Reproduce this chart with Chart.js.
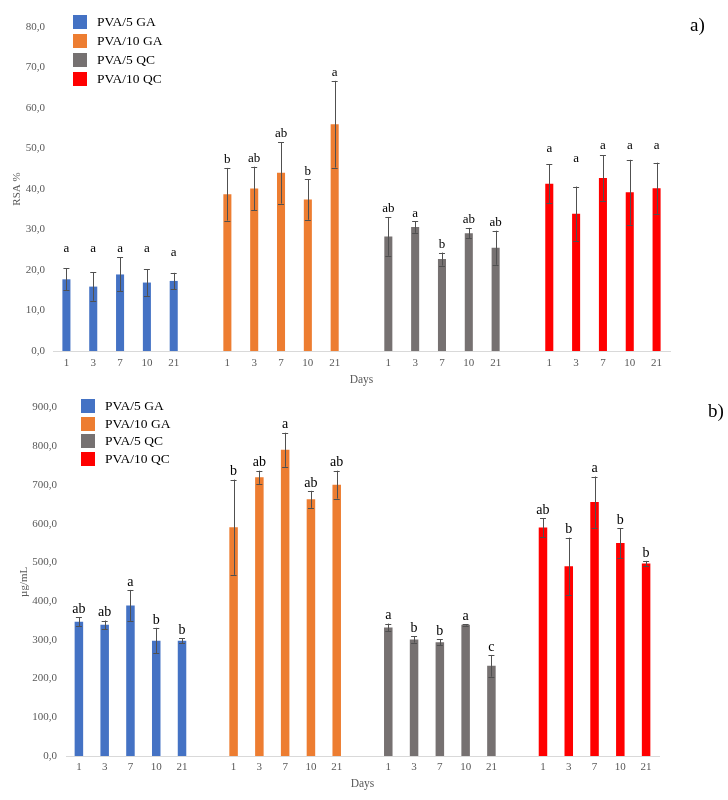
<!DOCTYPE html>
<html>
<head>
<meta charset="utf-8">
<script src="https://cdn.jsdelivr.net/npm/chart.js@4"></script>
<style>
  body { margin: 0; background: #fff; }
  #wrap { position: relative; width: 728px; height: 800px; font-family: 'Liberation Serif', 'Times New Roman', serif; }
  .box { position: absolute; left: 0; }
  .leg { position: absolute; font-size: 13.5px; color: #000; line-height: 14px; white-space: nowrap; }
  .leg i { position: absolute; left: 0; top: 0; width: 14px; height: 14px; }
  .leg span { position: absolute; left: 24px; top: 0; }
  .panel { position: absolute; font-size: 19px; color: #000; }
</style>
</head>
<body>
<div id="wrap">
  <div class="box" style="top:0"><canvas id="rsaChart" width="728" height="392"></canvas></div>
  <div class="box" style="top:392px"><canvas id="concChart" width="728" height="408"></canvas></div>
  <div id="legTop"></div>
  <div id="legBottom"></div>
  <div class="panel" style="left:690px; top:14px">a)</div>
  <div class="panel" style="left:708px; top:400px">b)</div>
</div>
<script>
const days = ['1', '3', '7', '10', '21'];
const seriesNames = ['PVA/5 GA', 'PVA/10 GA', 'PVA/5 QC', 'PVA/10 QC'];
const colors = ['#4472c4', '#ed7d31', '#767171', '#ff0000'];

// a) RSA %
const rsaGA5 = [17.7, 15.9, 18.9, 16.9, 17.3];
const rsaGA10 = [38.7, 40.1, 44.0, 37.4, 56.0];
const rsaQC5 = [28.3, 30.6, 22.7, 29.1, 25.5];
const rsaQC10 = [41.3, 33.9, 42.7, 39.2, 40.2];
const rsaErrGA5 = [2.7, 3.5, 4.2, 3.3, 2.0];
const rsaErrGA10 = [6.5, 5.4, 7.6, 5.0, 10.7];
const rsaErrQC5 = [4.8, 1.4, 1.6, 1.3, 4.2];
const rsaErrQC10 = [4.8, 6.7, 5.6, 8.0, 6.3];
const rsaTagsGA5 = ['a', 'a', 'a', 'a', 'a'];
const rsaTagsGA10 = ['b', 'ab', 'ab', 'b', 'a'];
const rsaTagsQC5 = ['ab', 'a', 'b', 'ab', 'ab'];
const rsaTagsQC10 = ['a', 'a', 'a', 'a', 'a'];
// letters that sit at a fixed level (RSA % value) instead of just over the bar
const rsaTagAtGA5 = [25.2, 25.2, 25.2, 25.2, 24.4];
const rsaTagAtQC10 = [50.1, 47.4, 50.6, 50.6, 50.6];

// b) µg/mL
const concGA5 = [347, 339, 389, 298, 298];
const concGA10 = [591, 720, 791, 663, 701];
const concQC5 = [332, 301, 294, 339, 233];
const concQC10 = [590, 490, 656, 550, 497];
const concErrGA5 = [11.5, 11, 40, 33, 6];
const concErrGA10 = [123, 17, 44, 22, 36];
const concErrQC5 = [10, 8, 8, 2, 28];
const concErrQC10 = [24, 74, 66, 39, 7];
const concTagsGA5 = ['ab', 'ab', 'a', 'b', 'b'];
const concTagsGA10 = ['b', 'ab', 'a', 'ab', 'ab'];
const concTagsQC5 = ['a', 'b', 'b', 'a', 'c'];
const concTagsQC10 = ['ab', 'b', 'a', 'b', 'b'];

const SERIF = "'Liberation Serif', 'Times New Roman', serif";
Chart.defaults.font.family = SERIF;

// 5 days per group, one empty slot between groups
const labels = [];
seriesNames.forEach((s, g) => {
  days.forEach(d => labels.push(d));
  if (g < seriesNames.length - 1) labels.push('');
});

function spread(values, g) {
  const out = new Array(labels.length).fill(null);
  values.forEach((v, i) => { out[g * 6 + i] = v; });
  return out;
}

function makeDatasets(values, errs, tags, tagAt) {
  return values.map((vals, g) => ({
    label: seriesNames[g],
    data: spread(vals, g),
    backgroundColor: colors[g],
    err: spread(errs[g], g),
    tags: spread(tags[g], g),
    tagAt: tagAt[g] ? spread(tagAt[g], g) : null
  }));
}

const fmt = v => v.toFixed(1).replace('.', ',');

const errorBars = {
  id: 'errorBars',
  afterDatasetsDraw(chart, args, opts) {
    const ctx = chart.ctx;
    const y = chart.scales.y;
    ctx.save();
    chart.data.datasets.forEach((ds, di) => {
      const meta = chart.getDatasetMeta(di);
      ds.data.forEach((v, i) => {
        if (v == null) return;
        const x = meta.data[i].x;
        const e = ds.err[i];
        const top = y.getPixelForValue(v + e);
        const bot = y.getPixelForValue(v - e);
        ctx.strokeStyle = '#505050';
        ctx.lineWidth = 1;
        ctx.beginPath();
        ctx.moveTo(Math.round(x) + 0.5, top);
        ctx.lineTo(Math.round(x) + 0.5, bot);
        ctx.moveTo(x - 3, Math.round(top) + 0.5);
        ctx.lineTo(x + 3, Math.round(top) + 0.5);
        ctx.moveTo(x - 3, Math.round(bot) + 0.5);
        ctx.lineTo(x + 3, Math.round(bot) + 0.5);
        ctx.stroke();

        ctx.fillStyle = '#000';
        ctx.font = opts.tagSize + 'px ' + SERIF;
        ctx.textAlign = 'center';
        ctx.textBaseline = 'middle';
        const at = ds.tagAt && ds.tagAt[i] != null ? y.getPixelForValue(ds.tagAt[i]) : top - 8;
        ctx.fillText(ds.tags[i], x, at);
      });
    });
    ctx.restore();
  }
};

function buildChart(id, datasets, opt) {
  return new Chart(document.getElementById(id), {
    type: 'bar',
    data: { labels, datasets },
    plugins: [errorBars],
    options: {
      responsive: false,
      animation: false,
      layout: { padding: { top: opt.padTop, right: opt.padRight, left: 0, bottom: 0 } },
      datasets: { bar: { grouped: false, categoryPercentage: 1, barPercentage: opt.barPct } },
      plugins: {
        legend: { display: false },
        tooltip: { enabled: false },
        errorBars: { tagSize: opt.tagSize }
      },
      scales: {
        x: {
          afterFit: s => { s.height = opt.xHeight; },
          grid: { drawOnChartArea: false, drawTicks: false },
          border: { color: '#d9d9d9', width: 1 },
          ticks: { autoSkip: false, maxRotation: 0, color: '#595959', font: { size: 11 }, padding: opt.xPad },
          title: { display: true, text: 'Days', color: '#595959', font: { size: 11.5 }, padding: { top: 0, bottom: opt.xTitlePad } }
        },
        y: {
          min: 0,
          max: opt.max,
          afterFit: s => { s.width = opt.yWidth; },
          grid: { display: false, drawTicks: false },
          border: { display: false },
          ticks: { stepSize: opt.step, color: '#595959', font: { size: 11 }, padding: opt.yPad, callback: v => fmt(v) },
          title: { display: true, text: opt.yTitle, color: '#595959', font: { size: 11 }, padding: { top: opt.yTitlePad, bottom: 0 } }
        }
      }
    }
  });
}

buildChart('rsaChart',
  makeDatasets([rsaGA5, rsaGA10, rsaQC5, rsaQC10],
    [rsaErrGA5, rsaErrGA10, rsaErrQC5, rsaErrQC10],
    [rsaTagsGA5, rsaTagsGA10, rsaTagsQC5, rsaTagsQC10],
    [rsaTagAtGA5, null, null, rsaTagAtQC10]),
  { padTop: 27, padRight: 58, yWidth: 53, xHeight: 41, max: 80, step: 10, yTitle: 'RSA %',
    xPad: 6, xTitlePad: 5, yPad: 8, yTitlePad: 11, barPct: 0.3, tagSize: 13 });

buildChart('concChart',
  makeDatasets([concGA5, concGA10, concQC5, concQC10],
    [concErrGA5, concErrGA10, concErrQC5, concErrQC10],
    [concTagsGA5, concTagsGA10, concTagsQC5, concTagsQC10],
    [null, null, null, null]),
  { padTop: 15, padRight: 69, yWidth: 66, xHeight: 44, max: 900, step: 100, yTitle: 'µg/mL',
    xPad: 5, xTitlePad: 9, yPad: 9, yTitlePad: 18, barPct: 0.33, tagSize: 14 });

function legend(id, left, top, step) {
  const el = document.getElementById(id);
  seriesNames.forEach((name, g) => {
    const row = document.createElement('div');
    row.className = 'leg';
    row.style.left = left + 'px';
    row.style.top = (top + g * step) + 'px';
    row.innerHTML = '<i style="background:' + colors[g] + '"></i><span>' + name + '</span>';
    el.appendChild(row);
  });
}
legend('legTop', 73, 15, 19);
legend('legBottom', 81, 399, 17.7);
</script>
</body>
</html>
